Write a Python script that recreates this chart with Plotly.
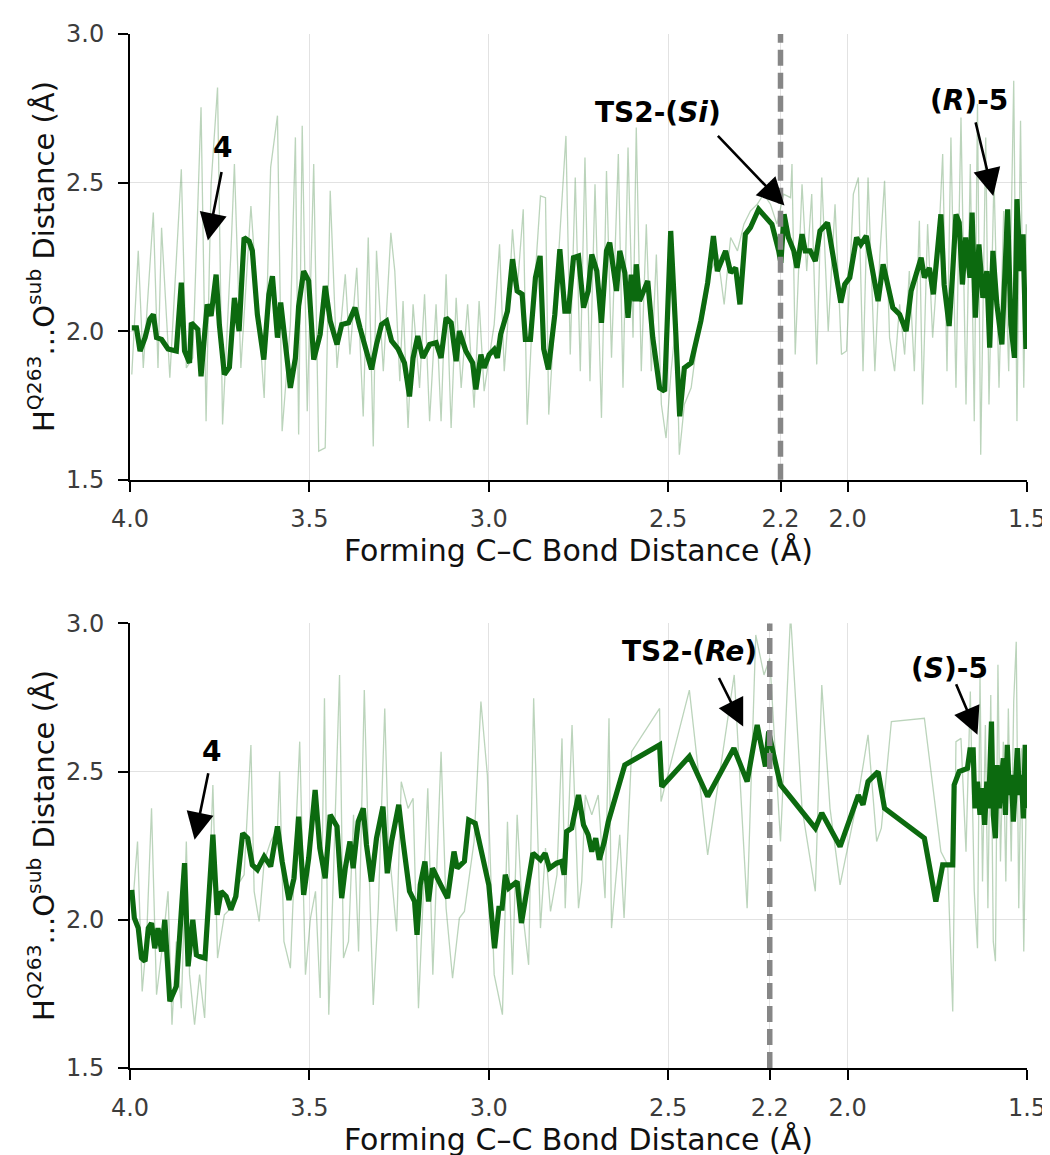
import plotly.graph_objects as go

# ---------------- data ----------------
# Top panel (TS2-(Si) pathway): forming C–C distance (Å) vs H(Q263)...O(sub) distance (Å)
top_smooth_x = [3.995, 3.982, 3.972, 3.958, 3.945, 3.935, 3.926, 3.912, 3.894, 3.871,
                3.857, 3.848, 3.834, 3.829, 3.811, 3.802, 3.785, 3.774, 3.760, 3.751,
                3.737, 3.723, 3.709, 3.696, 3.682, 3.668, 3.659, 3.645, 3.627, 3.613,
                3.603, 3.589, 3.580, 3.566, 3.553, 3.539, 3.530, 3.516, 3.502, 3.488,
                3.470, 3.456, 3.442, 3.423,
                3.410, 3.391, 3.373, 3.359, 3.345, 3.327, 3.313, 3.299, 3.285, 3.271,
                3.253, 3.235, 3.221, 3.211, 3.198, 3.184, 3.165, 3.147, 3.133, 3.119,
                3.105, 3.091, 3.082, 3.064, 3.045, 3.036, 3.022, 3.013, 2.999, 2.985,
                2.976, 2.967, 2.948, 2.934, 2.921, 2.907, 2.898, 2.884, 2.870, 2.857,
                2.847, 2.834, 2.816, 2.802, 2.788,
                2.778, 2.764, 2.750, 2.736, 2.723, 2.713, 2.699, 2.686, 2.672, 2.663,
                2.653, 2.644, 2.635, 2.621, 2.612, 2.603, 2.593, 2.589, 2.580, 2.570,
                2.557, 2.543, 2.524, 2.510, 2.493, 2.480, 2.468, 2.455, 2.436, 2.409,
                2.390, 2.374, 2.363, 2.340, 2.326, 2.312, 2.300, 2.285, 2.271, 2.248,
                2.229, 2.211, 2.192, 2.186, 2.177, 2.165,
                2.150, 2.141, 2.127, 2.118, 2.104, 2.090, 2.077, 2.056, 2.035, 2.019,
                2.008, 1.994, 1.975, 1.963, 1.948, 1.929, 1.915, 1.901, 1.887, 1.874,
                1.855, 1.837, 1.823, 1.804, 1.795, 1.786, 1.772, 1.761, 1.751, 1.740,
                1.731, 1.717, 1.708, 1.698, 1.689, 1.680, 1.671, 1.659, 1.653, 1.644,
                1.634, 1.623, 1.612, 1.604, 1.595, 1.584, 1.570, 1.561, 1.554, 1.545,
                1.535, 1.528, 1.519, 1.511, 1.503]
top_smooth_y = [2.011, 2.011, 1.933, 1.978, 2.040, 2.056, 1.978, 1.972, 1.940, 1.933,
                2.163, 1.933, 1.893, 2.028, 2.006, 1.848, 2.090, 2.051, 2.190, 2.022,
                1.854, 1.878, 2.112, 2.000, 2.315, 2.303, 2.270, 2.056, 1.904, 2.124,
                2.185, 1.978, 2.096, 1.944, 1.809, 1.910, 2.084, 2.202, 2.169, 1.904,
                1.989, 2.152, 2.034, 1.955,
                2.022, 2.028, 2.079, 2.011, 1.955, 1.871, 1.955, 2.022, 2.034, 1.967,
                1.940, 1.893, 1.780, 1.910, 1.983, 1.910, 1.955, 1.961, 1.910, 2.045,
                2.028, 1.899, 2.000, 1.933, 1.893, 1.804, 1.921, 1.876, 1.921, 1.938,
                1.910, 1.989, 2.067, 2.242, 2.135, 2.124, 1.972, 1.972, 2.180, 2.253,
                1.940, 1.871, 2.056, 2.276, 2.067,
                2.067, 2.247, 2.253, 2.079, 2.135, 2.258, 2.202, 2.028, 2.270, 2.298,
                2.225, 2.135, 2.270, 2.197, 2.045, 2.190, 2.101, 2.225, 2.101, 2.135,
                2.169, 1.978, 1.809, 1.798, 2.337, 2.022, 1.713, 1.876, 1.893, 2.034,
                2.163, 2.320, 2.202, 2.270, 2.197, 2.213, 2.090, 2.326, 2.348, 2.410,
                2.382, 2.360, 2.270, 2.230, 2.393, 2.315,
                2.270, 2.213, 2.326, 2.270, 2.270, 2.236, 2.337, 2.365, 2.213, 2.096,
                2.157, 2.180, 2.315, 2.292, 2.320, 2.202, 2.101, 2.225, 2.157, 2.079,
                2.056, 2.000, 2.135, 2.202, 2.247, 2.180, 2.213, 2.124, 2.270, 2.393,
                2.157, 2.017, 2.180, 2.393, 2.365, 2.157, 2.315, 2.180, 2.399, 2.045,
                2.292, 2.112, 2.202, 1.944, 2.270, 2.090, 1.955, 2.258, 2.410, 2.022,
                1.910, 2.444, 2.202, 2.326, 1.940]

top_raw_x = [3.995, 3.977, 3.963, 3.935, 3.922, 3.912, 3.889, 3.857, 3.843, 3.825,
             3.802, 3.788, 3.774, 3.756, 3.742, 3.719, 3.709, 3.691, 3.663, 3.645,
             3.626, 3.608, 3.589, 3.576, 3.553, 3.539, 3.530, 3.520, 3.506, 3.488,
             3.474, 3.456, 3.442, 3.423,
             3.400, 3.387, 3.368, 3.350, 3.336, 3.322, 3.313, 3.294, 3.273, 3.262,
             3.248, 3.239, 3.225, 3.211, 3.193, 3.179, 3.165, 3.147, 3.133, 3.119,
             3.105, 3.091, 3.077, 3.059, 3.041, 3.027, 3.013, 2.999, 2.985, 2.970,
             2.957, 2.948, 2.934, 2.921, 2.904, 2.893, 2.879, 2.856, 2.842, 2.833,
             2.819, 2.801, 2.785,
             2.773, 2.759, 2.745, 2.732, 2.718, 2.704, 2.686, 2.672, 2.658, 2.639,
             2.626, 2.612, 2.598, 2.589, 2.575, 2.561, 2.547, 2.533, 2.519, 2.506,
             2.492, 2.478, 2.469, 2.455, 2.436, 2.418, 2.399, 2.381, 2.362, 2.344,
             2.326, 2.307, 2.289, 2.271, 2.252, 2.234, 2.215, 2.197, 2.178, 2.159,
             2.155, 2.146, 2.127, 2.114, 2.100, 2.086, 2.072, 2.054, 2.035, 2.017,
             2.003, 1.984, 1.970, 1.957, 1.943, 1.924, 1.910, 1.897, 1.883, 1.869,
             1.855, 1.841, 1.828, 1.814, 1.800, 1.791, 1.777, 1.763, 1.749, 1.735,
             1.723, 1.712, 1.698, 1.684, 1.670, 1.658, 1.647, 1.638, 1.629, 1.615,
             1.606, 1.592, 1.578, 1.565, 1.551, 1.537, 1.528, 1.518, 1.509, 1.502]
top_raw_y = [1.854, 2.270, 1.876, 2.399, 1.876, 2.348, 1.843, 2.545, 1.876, 1.910,
             2.753, 1.697, 2.494, 2.820, 1.686, 2.258, 2.562, 1.876, 2.421, 2.090,
             1.775, 2.551, 2.725, 1.663, 2.022, 2.652, 1.652, 2.691, 1.730, 2.562,
             1.596, 1.607, 2.472, 1.876,
             2.191, 1.921, 2.213, 1.713, 2.315, 1.612, 2.270, 1.865, 2.331, 2.202,
             1.831, 2.101, 1.674, 2.090, 1.809, 2.124, 1.697, 2.090, 1.697, 2.191,
             1.674, 2.112, 1.809, 2.090, 1.742, 2.101, 1.798, 1.910, 2.022, 2.292,
             1.865, 2.011, 2.343, 2.135, 2.410, 1.685, 2.034, 2.455, 2.449, 1.719,
             2.000, 2.360, 2.657,
             1.921, 2.517, 1.865, 2.584, 1.831, 2.494, 1.708, 2.539, 1.910, 2.596,
             1.809, 2.618, 1.978, 2.685, 1.865, 2.360, 1.865, 2.258, 1.753, 1.640,
             1.865, 2.034, 1.584, 1.753, 1.809, 1.978, 2.067, 2.202, 2.258, 2.090,
             2.315, 2.270, 2.360, 2.404, 2.427, 2.461, 2.427, 2.360, 2.461, 2.449,
             2.562, 1.921, 2.494, 2.202, 2.461, 1.888, 2.517, 2.000, 2.427, 1.921,
             1.933, 2.461, 2.517, 1.865, 2.517, 1.865, 2.258, 2.506, 1.978, 1.865,
             2.090, 1.921, 2.202, 1.865, 2.371, 1.753, 2.360, 1.978, 2.225, 2.596,
             1.865, 2.652, 1.809, 2.719, 1.753, 2.562, 1.697, 2.764, 1.584, 2.652,
             1.753, 2.517, 1.809, 2.404, 1.865, 2.843, 1.697, 2.708, 1.809, 2.360]

# Bottom panel (TS2-(Re) pathway)
bot_smooth_x = [3.995, 3.988, 3.977, 3.968, 3.958, 3.949, 3.940, 3.931, 3.922, 3.912,
                3.903, 3.889, 3.871, 3.857, 3.848, 3.838, 3.825, 3.815, 3.806, 3.791,
                3.769, 3.757, 3.746, 3.732, 3.719, 3.705, 3.686, 3.672, 3.659, 3.645,
                3.626, 3.608, 3.589, 3.576, 3.557, 3.543, 3.530, 3.516, 3.502, 3.484,
                3.471, 3.456, 3.442, 3.423, 3.410,
                3.400, 3.387, 3.378, 3.364, 3.350, 3.341, 3.327, 3.313, 3.295, 3.283,
                3.271, 3.251, 3.239, 3.221, 3.207, 3.200, 3.191, 3.178, 3.168, 3.157,
                3.134, 3.115, 3.097, 3.088, 3.068, 3.056, 3.038, 3.019, 3.000, 2.984,
                2.972, 2.963, 2.954, 2.944, 2.935, 2.921, 2.909, 2.893, 2.877, 2.856,
                2.843, 2.831, 2.811, 2.797, 2.790, 2.783,
                2.769, 2.750, 2.736, 2.723, 2.713, 2.702, 2.692, 2.678, 2.667, 2.621,
                2.524, 2.518, 2.441, 2.390, 2.317, 2.280, 2.252, 2.229, 2.220, 2.206,
                2.187,
                2.164, 2.090, 2.072, 2.021, 1.970, 1.957, 1.943, 1.915, 1.897, 1.786,
                1.754, 1.735, 1.707, 1.703, 1.689, 1.666, 1.659, 1.650, 1.645, 1.638,
                1.631, 1.624, 1.618, 1.612, 1.607, 1.599, 1.594, 1.588, 1.583, 1.577,
                1.572, 1.566, 1.560, 1.555, 1.549, 1.544, 1.538, 1.533, 1.527, 1.521,
                1.516, 1.510, 1.505, 1.501]
bot_smooth_y = [2.101, 2.006, 1.972, 1.871, 1.860, 1.972, 1.989, 1.904, 1.972, 1.893,
                2.000, 1.725, 1.775, 2.051, 2.191, 1.843, 2.000, 1.882, 1.876, 1.871,
                2.287, 2.017, 2.096, 2.079, 2.034, 2.079, 2.292, 2.275, 2.185, 2.169,
                2.213, 2.180, 2.315, 2.197, 2.067, 2.140, 2.348, 2.084, 2.208, 2.438,
                2.242, 2.140, 2.354, 2.315, 2.073,
                2.174, 2.264, 2.174, 2.331, 2.376, 2.253, 2.129, 2.275, 2.382, 2.157,
                2.264, 2.388, 2.264, 2.096, 2.062, 1.949, 2.118, 2.197, 2.062, 2.174,
                2.118, 2.073, 2.230, 2.174, 2.197, 2.337, 2.326, 2.219, 2.118, 1.904,
                2.039, 2.039, 2.152, 2.107, 2.118, 2.129, 1.989, 2.107, 2.225, 2.202,
                2.225, 2.174, 2.191, 2.197, 2.152, 2.298,
                2.309, 2.421, 2.320, 2.287, 2.230, 2.275, 2.202, 2.264, 2.331, 2.522,
                2.590, 2.449, 2.551, 2.416, 2.579, 2.466, 2.657, 2.517, 2.635, 2.556,
                2.455,
                2.421, 2.309, 2.360, 2.247, 2.421, 2.388, 2.466, 2.500, 2.376, 2.275,
                2.062, 2.185, 2.185, 2.455, 2.500, 2.511, 2.573, 2.573, 2.376, 2.466,
                2.354, 2.444, 2.320, 2.466, 2.376, 2.669, 2.354, 2.275, 2.522, 2.376,
                2.466, 2.545, 2.354, 2.590, 2.421, 2.489, 2.331, 2.466, 2.579, 2.421,
                2.489, 2.342, 2.590, 2.376]

bot_raw_x = [3.991, 3.979, 3.966, 3.954, 3.940, 3.926, 3.908, 3.894, 3.883, 3.871,
             3.857, 3.843, 3.834, 3.820, 3.806, 3.792, 3.781, 3.769, 3.756, 3.737,
             3.719, 3.705, 3.682, 3.663, 3.654, 3.640, 3.626, 3.608, 3.589, 3.583,
             3.571, 3.553, 3.539, 3.527, 3.511, 3.497, 3.483, 3.470, 3.458, 3.446,
             3.433, 3.416, 3.405,
             3.391, 3.377, 3.363, 3.347, 3.336, 3.322, 3.308, 3.290, 3.280, 3.257,
             3.244, 3.225, 3.211, 3.196, 3.184, 3.170, 3.156, 3.133, 3.119, 3.101,
             3.082, 3.068, 3.041, 3.022, 3.004, 2.985, 2.962, 2.948, 2.934, 2.921,
             2.907, 2.889, 2.875, 2.856, 2.842, 2.828, 2.810, 2.796,
             2.787, 2.768, 2.750, 2.741, 2.731, 2.713, 2.695, 2.676, 2.665, 2.658,
             2.635, 2.623, 2.602, 2.524, 2.520, 2.441, 2.390, 2.316, 2.280, 2.256,
             2.233, 2.217, 2.187, 2.159,
             2.127, 2.090, 2.072, 2.049, 2.021, 1.970, 1.943, 1.919, 1.906, 1.878,
             1.786, 1.740, 1.721, 1.707, 1.698, 1.684, 1.670, 1.658, 1.647, 1.638,
             1.631, 1.624, 1.616, 1.609, 1.601, 1.594, 1.588, 1.581, 1.574, 1.566,
             1.559, 1.552, 1.544, 1.537, 1.530, 1.523, 1.516, 1.509, 1.502]
bot_raw_y = [2.073, 2.264, 1.758, 1.927, 2.376, 1.747, 1.927, 2.096, 1.646, 1.927,
             1.702, 2.264, 1.815, 1.646, 1.815, 1.669, 2.039, 2.455, 1.871, 2.017,
             2.039, 2.107, 2.152, 2.590, 2.096, 1.994, 2.197, 2.264, 2.309, 2.500,
             1.927, 1.837, 2.264, 2.601, 1.815, 2.006, 2.096, 1.736, 2.747, 1.680,
             2.152, 2.826, 1.871,
             1.927, 2.354, 1.893, 2.775, 2.264, 1.713, 2.039, 2.713, 2.264, 1.961,
             2.466, 2.376, 2.410, 1.702, 2.039, 2.444, 1.815, 2.567, 2.039, 1.803,
             2.006, 2.028, 2.264, 2.736, 2.489, 1.815, 1.680, 2.331, 1.815, 2.354,
             2.039, 1.848, 2.747, 1.972, 2.242, 2.028, 2.152, 2.612,
             2.039, 2.657, 2.039, 2.129, 2.421, 2.354, 2.421, 2.073, 2.680, 1.972,
             2.287, 2.006, 2.567, 2.713, 2.399, 2.775, 2.219, 2.826, 2.039, 2.961,
             2.826, 2.882, 2.264, 3.030,
             2.376, 2.096, 2.792, 2.376, 2.118, 2.421, 2.624, 2.264, 2.309, 2.669,
             2.680, 2.230, 2.185, 1.691, 2.601, 2.612, 2.230, 2.770, 2.096, 1.904,
             2.826, 2.129, 2.657, 2.039, 2.758, 1.927, 1.860, 2.860, 2.197, 2.601,
             2.129, 2.713, 2.197, 2.736, 2.938, 2.039, 2.579, 1.893, 2.421]

# transition-state positions (dashed lines) and axis ticks
ts_top = 2.187
ts_bot = 2.217
x_ticks_top = [4.0, 3.5, 3.0, 2.5, ts_top, 2.0, 1.5]
x_ticks_bot = [4.0, 3.5, 3.0, 2.5, ts_bot, 2.0, 1.5]
x_tick_text = ["4.0", "3.5", "3.0", "2.5", "2.2", "2.0", "1.5"]
y_ticks = [1.5, 2.0, 2.5, 3.0]
y_tick_text = ["1.5", "2.0", "2.5", "3.0"]

X_TITLE = "Forming C–C Bond Distance (Å)"
Y_TITLE = "H<sup>Q263</sup>...O<sup>sub</sup> Distance (Å)"

# ---------------- figure ----------------
FONT = "DejaVu Sans, Verdana, sans-serif"
RAW_COLOR = "rgba(105,160,105,0.45)"
SMOOTH_COLOR = "#0c6a0f"

fig = go.Figure()
for xs, ys, xa, ya in [(top_raw_x, top_raw_y, "x", "y"), (bot_raw_x, bot_raw_y, "x2", "y2")]:
    fig.add_trace(go.Scatter(x=xs, y=ys, mode="lines", xaxis=xa, yaxis=ya,
                             line=dict(color=RAW_COLOR, width=1.3), showlegend=False))
for xs, ys, xa, ya in [(top_smooth_x, top_smooth_y, "x", "y"), (bot_smooth_x, bot_smooth_y, "x2", "y2")]:
    fig.add_trace(go.Scatter(x=xs, y=ys, mode="lines", xaxis=xa, yaxis=ya,
                             line=dict(color=SMOOTH_COLOR, width=5.2), showlegend=False))

axis_common = dict(
    showline=True, linecolor="black", linewidth=2,
    ticks="outside", ticklen=10, tickwidth=2, tickcolor="black",
    showgrid=True, gridcolor="#e2e2e2", gridwidth=1, zeroline=False,
    tickfont=dict(family=FONT, size=24, color="#3c3c3c"),
)
xaxis_common = dict(
    **axis_common, range=[4.0, 1.5], tickmode="array", ticktext=x_tick_text,
    ticklabelstandoff=7,
    title=dict(text=X_TITLE, font=dict(family=FONT, size=30, color="#111111"), standoff=4),
)
yaxis_common = dict(
    **axis_common, range=[1.5, 3.0], tickmode="array", tickvals=y_ticks,
    ticktext=y_tick_text, ticklabelstandoff=9,
)

fig.update_layout(
    width=1050, height=1155,
    margin=dict(l=122, r=25, t=26, b=95),
    paper_bgcolor="white", plot_bgcolor="white",
    font=dict(family=FONT),
    xaxis=dict(**xaxis_common, domain=[0, 1], anchor="y", tickvals=x_ticks_top),
    yaxis=dict(**yaxis_common, domain=[0.569, 1.0], anchor="x"),
    xaxis2=dict(**xaxis_common, domain=[0, 1], anchor="y2", tickvals=x_ticks_bot),
    yaxis2=dict(**yaxis_common, domain=[0.0, 0.430], anchor="x2"),
)

# y-axis titles (placed as rotated annotations for exact placement)
for xr, yr in [("x domain", "y domain"), ("x2 domain", "y2 domain")]:
    fig.add_annotation(x=-0.099, y=0.5, xref=xr, yref=yr, text=Y_TITLE, textangle=-90,
                       showarrow=False, xanchor="center", yanchor="middle",
                       font=dict(family=FONT, size=29, color="#111111"))

# dashed transition-state lines
for ts, xr, yr in [(ts_top, "x", "y domain"), (ts_bot, "x2", "y2 domain")]:
    fig.add_shape(type="line", x0=ts, x1=ts, y0=0, y1=1, xref=xr, yref=yr,
                  line=dict(color="#868686", width=5.5, dash="16px,7px"), layer="above")

# labels and arrows
labels = [
    ("x", "y", 3.742, 2.618, "<b>4</b>"),
    ("x", "y", 2.529, 2.736, "<b>TS2-(<i>Si</i>)</b>"),
    ("x", "y", 1.661, 2.776, "<b>(<i>R</i>)-5</b>"),
    ("x2", "y2", 3.774, 2.568, "<b>4</b>"),
    ("x2", "y2", 2.441, 2.905, "<b>TS2-(<i>Re</i>)</b>"),
    ("x2", "y2", 1.717, 2.848, "<b>(<i>S</i>)-5</b>"),
]
for xr, yr, lx, ly, txt in labels:
    fig.add_annotation(x=lx, y=ly, xref=xr, yref=yr, text=txt, showarrow=False,
                       font=dict(family=FONT, size=28, color="black"))

arrows = [
    ("x", "y", 3.783, 2.305, 14, -70),
    ("x", "y", 2.176, 2.423, -68, -71),
    ("x", "y", 1.594, 2.455, -18, -75),
    ("x2", "y2", 3.820, 2.270, 14, -68),
    ("x2", "y2", 2.291, 2.652, -25, -50),
    ("x2", "y2", 1.638, 2.624, -22, -52),
]
for xr, yr, hx, hy, ax, ay in arrows:
    fig.add_annotation(x=hx, y=hy, xref=xr, yref=yr, text="", showarrow=True,
                       ax=ax, ay=ay, arrowhead=2, arrowsize=2.1, arrowwidth=2.6,
                       arrowcolor="black", standoff=0, startstandoff=0)

fig.write_html("out.html")
